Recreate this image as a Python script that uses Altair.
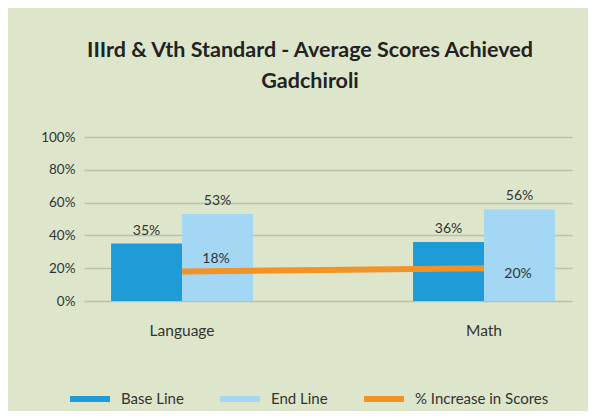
import altair as alt
import pandas as pd

categories = ["Language", "Math"]
base_line = [0.35, 0.36]
end_line = [0.53, 0.56]
increase = [0.18, 0.20]
series_names = ["Base Line", "End Line", "% Increase in Scores"]
series_colors = ["#1f9bd7", "#a4d7f4", "#f39325"]
y_ticks = [0, 0.2, 0.4, 0.6, 0.8, 1.0]

bars_df = pd.DataFrame(
    [{"category": c, "series": series_names[0], "value": v} for c, v in zip(categories, base_line)]
    + [{"category": c, "series": series_names[1], "value": v} for c, v in zip(categories, end_line)]
)
line_df = pd.DataFrame(
    [{"category": c, "series": series_names[2], "value": v} for c, v in zip(categories, increase)]
)

FONT = "Lato"
TXT = "#333333"

color_scale = alt.Scale(domain=series_names, range=series_colors)
x_enc = alt.X(
    "category:N",
    sort=categories,
    scale=alt.Scale(paddingInner=0.53, paddingOuter=0.073, align=0.614),
    axis=alt.Axis(title=None, labelAngle=0, ticks=False, domain=False, grid=False,
                  labelFontSize=15.5, labelColor=TXT, labelFont=FONT, labelPadding=22),
)
y_enc = alt.Y(
    "value:Q",
    scale=alt.Scale(domain=[0, 1], nice=False),
    axis=alt.Axis(title=None, values=y_ticks, format=".0%", ticks=False, domain=False,
                  labelFontSize=13.5, labelColor=TXT, labelFont=FONT, labelPadding=9,
                  gridColor="#bac0a9", gridWidth=1.5),
)

legend_path = "M-1,-0.15 H1 V0.15 H-1 Z"

bars = alt.Chart(bars_df).mark_bar().encode(
    x=x_enc,
    xOffset=alt.XOffset("series:N", sort=series_names[:2],
                        scale=alt.Scale(paddingInner=0, paddingOuter=0)),
    y=y_enc,
    color=alt.Color("series:N", scale=color_scale,
                    legend=alt.Legend(title=None, orient="none", direction="horizontal",
                                      legendX=-14, legendY=242,
                                      symbolType=legend_path, symbolSize=1600,
                                      symbolStrokeWidth=0, labelFontSize=15,
                                      labelColor=TXT, labelFont=FONT, labelOffset=11,
                                      columnPadding=36)),
)

bar_labels = alt.Chart(bars_df).mark_text(
    baseline="bottom", dy=-6, fontSize=14, font=FONT, color=TXT
).encode(
    x=x_enc,
    xOffset=alt.XOffset("series:N", sort=series_names[:2],
                        scale=alt.Scale(paddingInner=0, paddingOuter=0)),
    y=y_enc,
    text=alt.Text("value:Q", format=".0%"),
)

line = alt.Chart(line_df).mark_line(strokeWidth=6, strokeCap="butt").encode(
    x=x_enc,
    y=y_enc,
    color=alt.Color("series:N", scale=color_scale, legend=None),
)

line_label_lang = alt.Chart(line_df).transform_filter(
    alt.datum.category == categories[0]
).mark_text(baseline="bottom", dx=34, dy=-5, fontSize=14, font=FONT, color=TXT).encode(
    x=x_enc, y=y_enc, text=alt.Text("value:Q", format=".0%")
)
line_label_math = alt.Chart(line_df).transform_filter(
    alt.datum.category == categories[1]
).mark_text(baseline="top", dx=34, dy=-1, fontSize=14, font=FONT, color=TXT).encode(
    x=x_enc, y=y_enc, text=alt.Text("value:Q", format=".0%")
)

chart = alt.layer(bars, bar_labels, line, line_label_lang, line_label_math).properties(
    width=488,
    height=164,
    padding={"left": 76, "top": 129, "right": 16, "bottom": 110},
    autosize=alt.AutoSizeParams(type="none"),
    background="#dde6cb",
    title=alt.TitleParams(
        text=["IIIrd & Vth Standard - Average Scores Achieved", "Gadchiroli"],
        font=FONT, fontSize=21.5, fontWeight="bold", color="#222222",
        anchor="middle", frame="group", dx=-18, offset=38, lineHeight=31,
    ),
).configure_view(stroke=None)

chart.save("out.html", embed_options={"renderer": "svg", "actions": False})
